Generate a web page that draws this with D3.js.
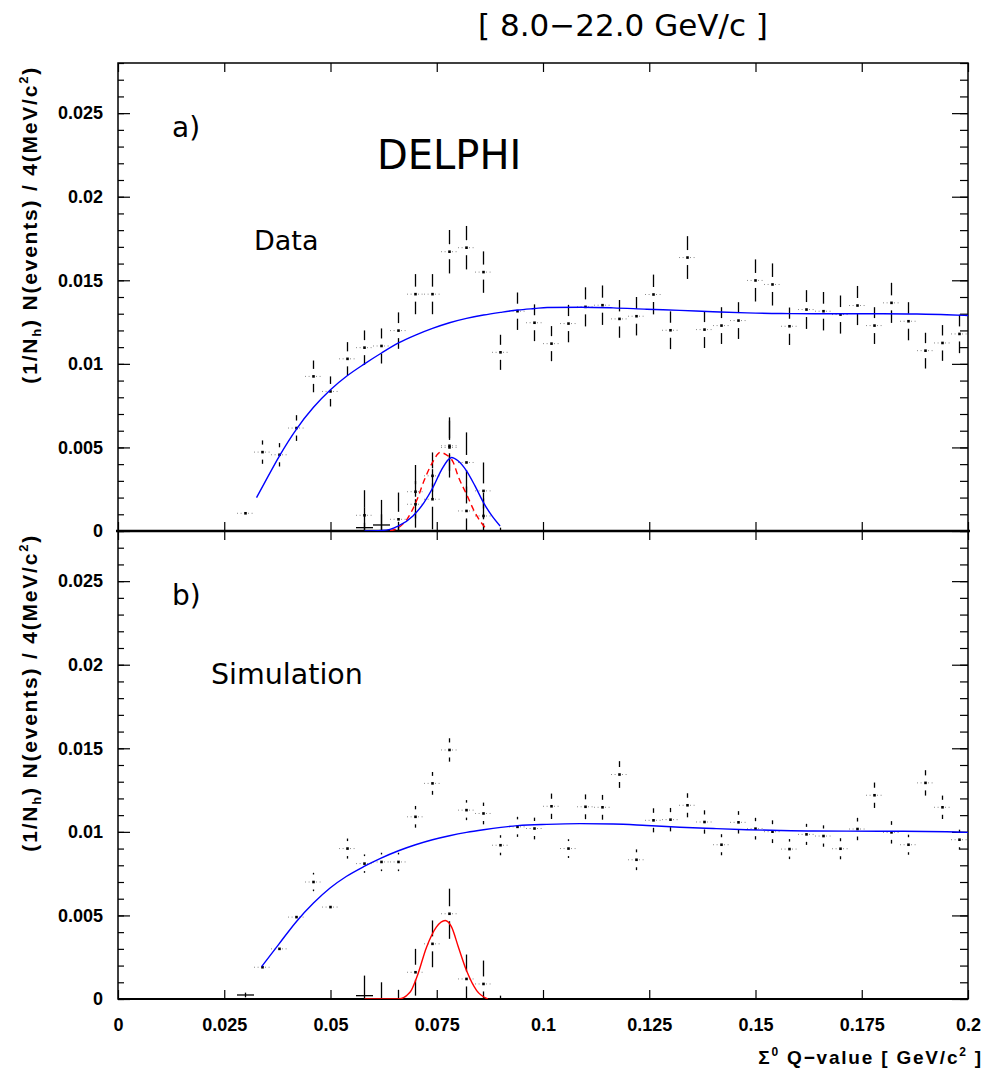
<!DOCTYPE html>
<html><head><meta charset="utf-8">
<script src="https://cdn.jsdelivr.net/npm/d3@7/dist/d3.min.js"></script>
<style>
body{margin:0;background:#fff;}
svg{display:block;}
</style></head>
<body><svg id="c" width="990" height="1077"></svg>
<script>
// ---------------- data ----------------
const binCenters = [0.030,0.034,0.038,0.042,0.046,0.050,0.054,0.058,0.062,0.066,0.070,0.074,0.078,0.082,0.086,0.090,0.094,0.098,0.102,0.106,0.110,0.114,0.118,0.122,0.126,0.130,0.134,0.138,0.142,0.146,0.150,0.154,0.158,0.162,0.166,0.170,0.174,0.178,0.182,0.186,0.190,0.194,0.198];
const dataValues = [0.00106,0.00472,0.00456,0.00616,0.00925,0.00835,0.0103,0.01097,0.01107,0.01199,0.01417,0.01417,0.01671,0.01695,0.01549,0.01069,0.01315,0.01246,0.01121,0.01241,0.01341,0.01351,0.01269,0.01285,0.01415,0.01201,0.01636,0.01205,0.01229,0.01259,0.01499,0.01475,0.01225,0.01325,0.01315,0.01295,0.01349,0.01229,0.01365,0.01255,0.01079,0.01125,0.01179];
const dataErrors = [0.0004,0.0007,0.0007,0.00077,0.00095,0.0009,0.001,0.00103,0.00105,0.00109,0.0012,0.0012,0.0013,0.0013,0.00124,0.00105,0.00112,0.0011,0.00105,0.00112,0.00117,0.00118,0.00113,0.00115,0.00119,0.00113,0.00128,0.0011,0.0011,0.0011,0.00126,0.00126,0.00112,0.00116,0.00115,0.00114,0.00117,0.0011,0.0012,0.00114,0.00107,0.00107,0.00115];
const simValues = [0.00024,0.0019,0.0030,0.0049,0.0070,0.0055,0.0090,0.0081,0.0082,0.0082,0.0109,0.0129,0.0149,0.0113,0.0111,0.0092,0.0103,0.0102,0.01153,0.0090,0.0115,0.01147,0.01343,0.00833,0.01069,0.01073,0.01159,0.01059,0.00923,0.01057,0.01019,0.01001,0.00897,0.00985,0.00975,0.00899,0.01017,0.01219,0.00997,0.00923,0.01293,0.01147,0.00953];
const simErrors = [0.00014,0.0003,0.00035,0.0004,0.00055,0.0004,0.0006,0.00055,0.00055,0.00055,0.00065,0.00068,0.0007,0.0006,0.00065,0.0006,0.0006,0.00065,0.00076,0.00056,0.00074,0.00074,0.0008,0.00062,0.00072,0.0007,0.00072,0.0007,0.00063,0.00067,0.00065,0.00068,0.0006,0.00063,0.00064,0.00063,0.00067,0.00076,0.00067,0.0006,0.00076,0.0007,0.0006];

// signal (background-subtracted) histograms
const sigDataX = [0.058,0.062,0.066,0.070,0.074,0.078,0.082,0.086];
const sigDataY = [0.00094,0.00036,0.0007,0.00235,0.0019,0.0050,0.0041,0.0024];
const sigDataE = [0.0015,0.0015,0.0016,0.0016,0.0018,0.0018,0.0018,0.0017];
const sigSimX = [0.058,0.062,0.066,0.070,0.074,0.078,0.082,0.086,0.090];
const sigSimY = [0.0002,0,0,0.0016,0.0033,0.0051,0.0012,0.0009,0];
const sigSimE = [0.0012,0.001,0.00055,0.0014,0.0014,0.0015,0.00146,0.0014,0.0002];

// fitted curves
const bgDataX = [0.0326,0.034,0.038,0.042,0.046,0.050,0.054,0.058,0.062,0.066,0.070,0.074,0.078,0.082,0.086,0.090,0.094,0.098,0.101,0.109,0.1165,0.1244,0.1322,0.140,0.148,0.156,0.164,0.172,0.180,0.188,0.195,0.200];
const bgDataY = [0.0020,0.00265,0.0045,0.0061,0.0074,0.00845,0.0093,0.0100,0.01065,0.01125,0.01172,0.01212,0.01246,0.01272,0.01292,0.01308,0.01322,0.01331,0.01337,0.01339,0.01335,0.01327,0.0132,0.01312,0.01305,0.01301,0.013,0.013,0.013,0.01298,0.01294,0.01289];
const bgSimX = [0.0338,0.0379,0.0420,0.0460,0.0499,0.0537,0.0579,0.0619,0.0660,0.0700,0.0740,0.0780,0.0820,0.0860,0.0901,0.0940,0.1009,0.1087,0.1165,0.1244,0.1322,0.1401,0.1479,0.1558,0.1636,0.1793,0.1950,0.2000];
const bgSimY = [0.00194,0.0033,0.00464,0.00574,0.00664,0.00733,0.00793,0.00843,0.00887,0.00923,0.00953,0.00977,0.00997,0.01013,0.01027,0.01037,0.01045,0.01049,0.01047,0.01038,0.01028,0.0102,0.01013,0.01008,0.01005,0.01004,0.01001,0.00997];
const gausDataX = [0.058,0.062,0.064,0.066,0.0694,0.072,0.0741,0.076,0.0785,0.080,0.082,0.084,0.086,0.088,0.0899];
const gausDataY = [0,0.00003,0.0001,0.0003,0.0009,0.0017,0.0026,0.0036,0.0044,0.0042,0.0036,0.0027,0.0017,0.0009,0.0003];
const simShapeX = [0.064,0.066,0.068,0.0704,0.072,0.074,0.0758,0.077,0.0789,0.080,0.082,0.084,0.0867];
const simShapeY = [0,0.0002,0.0007,0.0019,0.0030,0.0041,0.0047,0.0046,0.0041,0.0033,0.0022,0.0011,0.0001];
const gausSimX = [0.058,0.066,0.0687,0.0703,0.0726,0.0749,0.0770,0.0785,0.0801,0.0820,0.0844,0.087];
const gausSimY = [0,0,0.0004,0.0013,0.0031,0.0043,0.0047,0.0043,0.0031,0.0017,0.0005,0];

const yTickValues = [0,0.005,0.01,0.015,0.02,0.025];
const yTickLabels = ["0","0.005","0.01","0.015","0.02","0.025"];
const xTickValues = [0,0.025,0.05,0.075,0.1,0.125,0.15,0.175,0.2];
const xTickLabels = ["0","0.025","0.05","0.075","0.1","0.125","0.15","0.175","0.2"];
const binWidth = 0.004;

// ---------------- layout ----------------
const L = 118, R = 968, TOP = 63, MID = 531, BOT = 999;
const svg = d3.select('#c');
const x = d3.scaleLinear().domain([0, 0.2]).range([L, R]);
const yA = d3.scaleLinear().domain([0, 0.028]).range([MID, TOP]);
const yB = d3.scaleLinear().domain([0, 0.028]).range([BOT, MID]);
const tickFont = '"Liberation Sans", Arial, sans-serif';
const higz = '"DejaVu Sans", Verdana, sans-serif';

const defs = svg.append('defs');
defs.append('clipPath').attr('id','clipA').append('rect').attr('x',L).attr('y',TOP).attr('width',R-L).attr('height',MID-TOP);
defs.append('clipPath').attr('id','clipB').append('rect').attr('x',L).attr('y',MID).attr('width',R-L).attr('height',BOT-MID);

function styleAxis(g){
  g.select('.domain').remove();
  g.selectAll('.tick line').attr('stroke','#000').attr('stroke-width',1.2);
  g.selectAll('text').attr('font-family',tickFont).attr('font-weight','bold').attr('font-size',18).attr('fill','#000');
}

function yAxes(yS){
  svg.append('g').attr('transform',`translate(${L},0)`)
    .call(d3.axisLeft(yS).tickValues(yS.ticks(28)).tickSize(-6).tickFormat('')).call(styleAxis);
  svg.append('g').attr('transform',`translate(${L},0)`)
    .call(d3.axisLeft(yS).tickValues(yTickValues).tickSize(-12).tickPadding(15)
      .tickFormat((d,i)=>yTickLabels[i])).call(styleAxis);
  svg.append('g').attr('transform',`translate(${R},0)`)
    .call(d3.axisRight(yS).tickValues(yS.ticks(28)).tickSize(-8).tickFormat('')).call(styleAxis);
  svg.append('g').attr('transform',`translate(${R},0)`)
    .call(d3.axisRight(yS).tickValues(yTickValues).tickSize(-16).tickFormat('')).call(styleAxis);
}
yAxes(yA);
yAxes(yB);

// x ticks
svg.append('g').attr('transform',`translate(0,${TOP})`)
  .call(d3.axisTop(x).tickValues(xTickValues).tickSize(-9).tickFormat('')).call(styleAxis);
svg.append('g').attr('transform',`translate(0,${MID})`)
  .call(d3.axisBottom(x).tickValues(xTickValues).tickSize(-9).tickFormat('')).call(styleAxis);
svg.append('g').attr('transform',`translate(0,${MID})`)
  .call(d3.axisTop(x).tickValues(xTickValues).tickSize(-9).tickFormat('')).call(styleAxis);
svg.append('g').attr('transform',`translate(0,${BOT})`)
  .call(d3.axisBottom(x).tickValues(xTickValues).tickSize(-9).tickPadding(19)
    .tickFormat((d,i)=>xTickLabels[i])).call(styleAxis);

// frame
svg.append('rect').attr('x',L).attr('y',TOP).attr('width',R-L).attr('height',BOT-TOP)
  .attr('fill','none').attr('stroke','#000').attr('stroke-width',1.5);
svg.append('line').attr('x1',L-2).attr('x2',R+2).attr('y1',MID).attr('y2',MID).attr('stroke','#000').attr('stroke-width',2.6);
svg.append('line').attr('x1',L).attr('x2',R).attr('y1',BOT).attr('y2',BOT).attr('stroke','#000').attr('stroke-width',2);

// ---------------- points ----------------
function drawHist(clip, yS, xs, ys, es){
  const g = svg.append('g').attr('clip-path',`url(#${clip})`);
  const pts = xs.map((xv,i)=>({x:xv, y:ys[i], e:es[i]}));
  const gap = 7.5;
  pts.forEach(p=>{
    const cx = x(p.x), cy = yS(p.y);
    const top = yS(p.y + p.e), bot = yS(p.y - p.e);
    const hw = x(p.x + binWidth/2) - cx;
    if (p.y < 0.0005) {
      g.append('line').attr('x1',cx).attr('x2',cx).attr('y1',top).attr('y2',bot).attr('stroke','#000').attr('stroke-width',1.3);
      g.append('line').attr('x1',cx-hw).attr('x2',cx+hw).attr('y1',cy).attr('y2',cy).attr('stroke','#000').attr('stroke-width',1.3);
    } else {
      if (top < cy - gap) g.append('line').attr('x1',cx).attr('x2',cx).attr('y1',top).attr('y2',cy-gap).attr('stroke','#000').attr('stroke-width',1.3);
      if (bot > cy + gap) g.append('line').attr('x1',cx).attr('x2',cx).attr('y1',cy+gap).attr('y2',bot).attr('stroke','#000').attr('stroke-width',1.3);
      [[-hw,-2.5],[2.5,hw]].forEach(([a,b])=>{
        g.append('line').attr('x1',cx+a).attr('x2',cx+b).attr('y1',cy).attr('y2',cy)
          .attr('stroke','#8a8a8a').attr('stroke-width',1).attr('stroke-dasharray','1,2.6');
      });
      g.append('rect').attr('x',cx-1.3).attr('y',cy-1.3).attr('width',2.6).attr('height',2.6).attr('fill','#000');
    }
  });
}
drawHist('clipA', yA, binCenters, dataValues, dataErrors);
drawHist('clipA', yA, sigSimX, sigSimY, sigSimE);
drawHist('clipA', yA, sigDataX, sigDataY, sigDataE);
drawHist('clipB', yB, binCenters, simValues, simErrors);
drawHist('clipB', yB, sigSimX, sigSimY, sigSimE);

// ---------------- curves ----------------
function curve(clip, yS, xs, ys, color, dash){
  const line = d3.line().x(d=>x(d[0])).y(d=>yS(d[1])).curve(d3.curveMonotoneX);
  svg.append('path').attr('clip-path',`url(#${clip})`).attr('d', line(xs.map((v,i)=>[v, ys[i]])))
    .attr('fill','none').attr('stroke',color).attr('stroke-width',1.4)
    .attr('stroke-dasharray', dash || null);
}
curve('clipA', yA, bgDataX, bgDataY, '#0000ff');
curve('clipA', yA, simShapeX, simShapeY, '#ff0000', '6,4');
curve('clipA', yA, gausDataX, gausDataY, '#0000ff');
curve('clipB', yB, bgSimX, bgSimY, '#0000ff');
curve('clipB', yB, gausSimX, gausSimY, '#ff0000');

// ---------------- texts ----------------
function txt(xp, yp, s, size, opts={}){
  return svg.append('text').attr('x',xp).attr('y',yp).attr('font-family',opts.family||higz)
    .attr('font-size',size).attr('font-weight',opts.weight||'normal').attr('text-anchor',opts.anchor||'start')
    .attr('fill','#000').text(s);
}
txt(623, 36, '[ 8.0\u221222.0 GeV/c ]', 31, {anchor:'middle'});
txt(172, 137, 'a)', 28);
txt(377, 169, 'DELPHI', 40);
txt(254, 250, 'Data', 27);
txt(172, 605, 'b)', 28);
txt(211, 684, 'Simulation', 28.5);

// y titles
function yTitle(yEnd){
  const t = svg.append('text').attr('transform',`translate(37,${yEnd}) rotate(-90)`)
    .attr('text-anchor','end').attr('font-family',tickFont).attr('font-weight','bold')
    .attr('font-size',21).attr('letter-spacing',1.8).attr('fill','#000');
  t.append('tspan').text('(1/N');
  t.append('tspan').attr('font-size',13).attr('dy',4).text('h');
  t.append('tspan').attr('dy',-4).text(') N(events) / 4(MeV/c');
  t.append('tspan').attr('font-size',13).attr('dy',-9).text('2');
  t.append('tspan').attr('dy',9).text(')');
}
yTitle(66);
yTitle(534);

// x title
const xt = svg.append('text').attr('x',983).attr('y',1064).attr('text-anchor','end')
  .attr('font-family',tickFont).attr('font-weight','bold').attr('font-size',19)
  .attr('letter-spacing',1.8).attr('fill','#000');
xt.append('tspan').text('\u03A3');
xt.append('tspan').attr('font-size',12).attr('dy',-8).text('0');
xt.append('tspan').attr('dy',8).text(' Q\u2212value [ GeV/c');
xt.append('tspan').attr('font-size',12).attr('dy',-8).text('2');
xt.append('tspan').attr('dy',8).text(' ]');
</script>
</body></html>
